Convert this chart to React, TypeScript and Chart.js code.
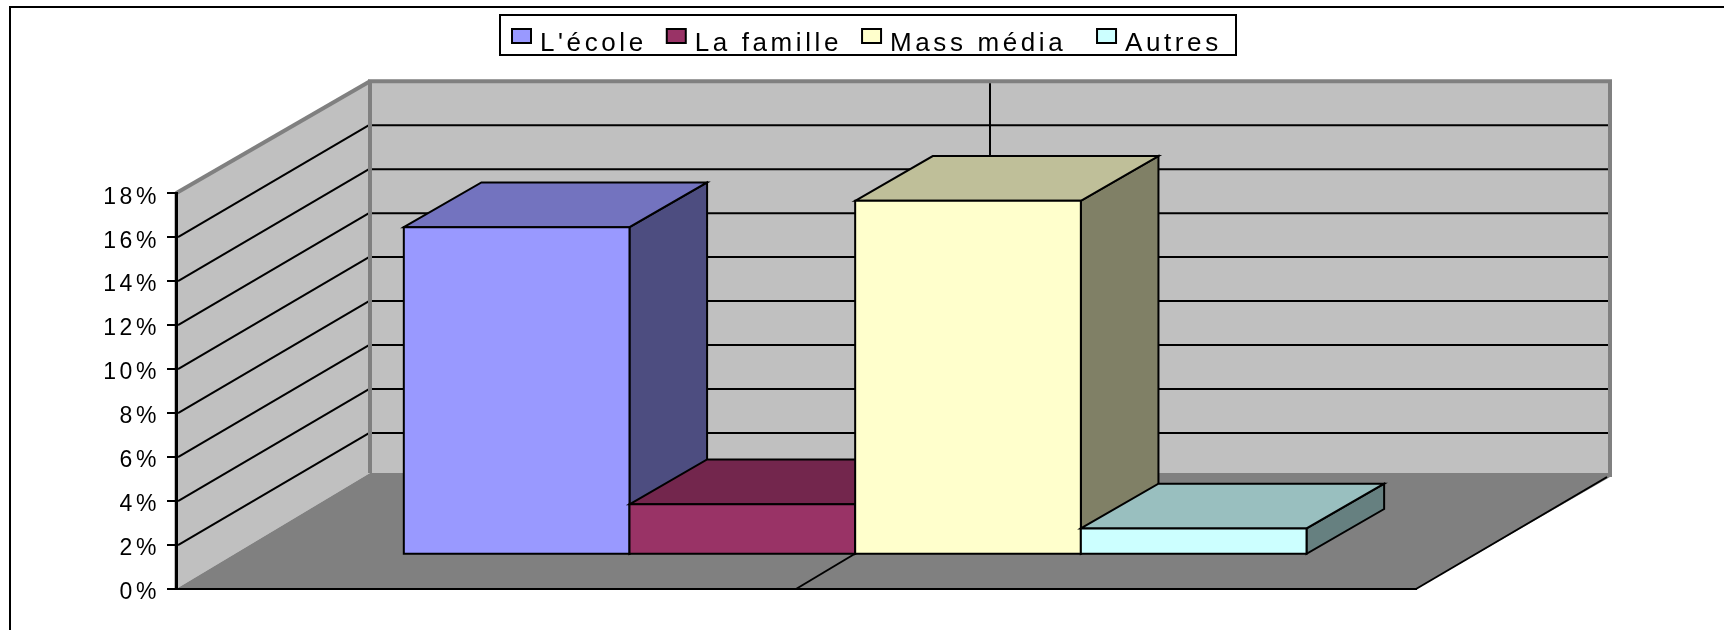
import React, { useEffect, useRef } from "react";
import { Chart, registerables } from "chart.js";

Chart.register(...registerables);

const categories = [""];
const seriesNames = ["L'école", "La famille", "Mass média", "Autres"];
const ecoleValues = [14.9];
const familleValues = [2.3];
const massMediaValues = [16.1];
const autresValues = [1.2];
const seriesValues = [ecoleValues, familleValues, massMediaValues, autresValues];
const frontColors = ["#9999FF", "#993366", "#FFFFCC", "#CCFFFF"];
const topColors = ["#7373BF", "#73264D", "#BFBF99", "#99BFBF"];
const sideColors = ["#4D4D80", "#4D1A33", "#808066", "#668080"];

const FONT = "'Liberation Sans', Arial, sans-serif";
const DEPTH_X = 194;
const DEPTH_Y = 112;
const FLOOR_RISE = 116;
const BAR_GAP_DEPTH = 0.305;
const BAR_DEPTH = 0.4;
const LINE = 2;
const SPACING = "3.6px";

function poly(ctx: any, pts: number[][], fill?: string, stroke?: string, lw = LINE) {
  ctx.beginPath();
  pts.forEach((p, i) => (i ? ctx.lineTo(p[0], p[1]) : ctx.moveTo(p[0], p[1])));
  if (fill) {
    ctx.closePath();
    ctx.fillStyle = fill;
    ctx.fill();
  }
  if (stroke) {
    ctx.strokeStyle = stroke;
    ctx.lineWidth = lw;
    ctx.stroke();
  }
}

const box3d = {
  id: "box3d",
  beforeUpdate(chart: any) {
    chart.ctx.letterSpacing = SPACING;
  },
  beforeDraw(chart: any) {
    const ctx = chart.ctx;
    ctx.letterSpacing = SPACING;
    const { left, right, top, bottom } = chart.chartArea;
    const y = chart.scales.y;
    const backL = left + DEPTH_X;
    const backR = right + DEPTH_X;
    const backT = top - DEPTH_Y;
    const backB = bottom - DEPTH_Y;
    const floorB = bottom - FLOOR_RISE;

    ctx.save();
    ctx.letterSpacing = "0px";
    // outer frame, running off the page on the right and bottom
    ctx.strokeStyle = "#000";
    ctx.lineWidth = 2;
    ctx.strokeRect(10, 7, 2000, 2000);

    // walls and floor
    poly(ctx, [[left, top], [backL, backT], [backL, floorB], [left, bottom]], "#C0C0C0");
    poly(ctx, [[backL, backT], [backR, backT], [backR, floorB], [backL, floorB]], "#C0C0C0");
    poly(ctx, [[left, bottom], [backL, floorB], [backR, floorB], [backR, backB], [right, bottom]], "#808080");

    // gridlines
    for (const t of y.ticks) {
      const py = y.getPixelForValue(t.value);
      if (t.value === y.min || t.value === y.max) continue;
      poly(ctx, [[left + 2, py], [backL - 1, py - DEPTH_Y]], undefined, "#000");
      poly(ctx, [[backL + 2, py - DEPTH_Y], [backR - 2, py - DEPTH_Y]], undefined, "#000");
    }

    // wall edges
    poly(ctx, [[left, top], [backL, backT]], undefined, "#808080", 4);
    poly(ctx, [[backL, floorB], [backL, backT], [backR + 2, backT]], undefined, "#808080", 4);
    poly(ctx, [[backR, backT], [backR, backB]], undefined, "#808080", 4);
    poly(ctx, [[left, top], [left, bottom + 1]], undefined, "#808080", 3);

    // category divider on back wall and floor
    const midF = (left + right) / 2;
    const midB = midF + DEPTH_X;
    poly(ctx, [[midB, backT + 2], [midB, floorB]], undefined, "#000");
    poly(ctx, [[midF, bottom], [midB, floorB]], undefined, "#000");
    // floor front-right edge
    poly(ctx, [[right, bottom], [backR - 3, backB]], undefined, "#000");
    ctx.restore();
  },
  beforeDatasetsDraw(chart: any) {
    const ctx = chart.ctx;
    const fx = DEPTH_X * BAR_GAP_DEPTH;
    const fy = DEPTH_Y * BAR_GAP_DEPTH;
    const dx = DEPTH_X * BAR_DEPTH;
    const dy = DEPTH_Y * BAR_DEPTH;
    ctx.save();
    ctx.lineJoin = "miter";
    chart.data.datasets.forEach((_: any, i: number) => {
      chart.getDatasetMeta(i).data.forEach((el: any) => {
        const l = el.x - el.width / 2 + fx;
        const r = el.x + el.width / 2 + fx;
        const t = el.y - fy;
        const b = el.base - fy;
        poly(ctx, [[r, t], [r + dx, t - dy], [r + dx, b - dy], [r, b]], sideColors[i], "#000");
        poly(ctx, [[l, t], [l + dx, t - dy], [r + dx, t - dy], [r, t]], topColors[i], "#000");
        poly(ctx, [[l, t], [r, t], [r, b], [l, b]], frontColors[i], "#000");
      });
    });
    ctx.restore();
    return false;
  },
  afterDraw(chart: any) {
    const ctx = chart.ctx;
    const lg = chart.legend;
    const hb = lg.legendHitBoxes;
    ctx.save();
    ctx.letterSpacing = "0px";
    ctx.strokeStyle = "#000";
    ctx.lineWidth = 2;
    ctx.strokeRect(500, 15, 736, 40);
    hb.forEach((h: any, i: number) => {
      const x = 512 + h.left - hb[0].left;
      ctx.fillStyle = frontColors[i];
      ctx.fillRect(x, 29, 19, 14);
      ctx.strokeRect(x, 29, 19, 14);
    });
    ctx.restore();
  },
};

const placeLegend = {
  id: "placeLegend",
  beforeDraw(chart: any) {
    const lg = chart.legend;
    lg.left = 492;
    lg.right = 1500;
    lg.top = 11;
    lg.bottom = 63;
  },
};

export default function App() {
  const ref = useRef<HTMLCanvasElement>(null);
  useEffect(() => {
    document.body.style.margin = "0";
    const chart = new Chart(ref.current as HTMLCanvasElement, {
      type: "bar",
      data: {
        labels: categories,
        datasets: seriesNames.map((name, i) => ({
          label: name,
          data: seriesValues[i],
          backgroundColor: frontColors[i],
          borderColor: "#000",
          borderWidth: 1,
          categoryPercentage: 0.728,
          barPercentage: 1,
        })),
      },
      options: {
        responsive: false,
        animation: false,
        events: [],
        layout: { padding: { left: 0, right: 308, top: 0, bottom: 41 } },
        plugins: {
          tooltip: { enabled: false },
          title: { display: true, text: "", font: { size: 1 }, padding: { top: 0, bottom: 136 } },
          legend: {
            display: true,
            position: "top",
            align: "start",
            labels: {
              color: "#000",
              font: { family: FONT, size: 26 },
              boxWidth: 15,
              boxHeight: 14,
              padding: 20,
              generateLabels: () =>
                seriesNames.map((text, i) => ({
                  // the trailing no-break space only widens the advance to the next item
                  text: i === 2 ? `${text}\u00A0` : text,
                  fillStyle: "transparent",
                  strokeStyle: "transparent",
                  lineWidth: 0,
                  datasetIndex: i,
                })),
            },
          },
        },
        scales: {
          x: {
            type: "category",
            grid: { display: false, drawTicks: false },
            border: { display: true, color: "#000", width: 2 },
            ticks: { display: false },
          },
          y: {
            type: "linear",
            min: 0,
            max: 18,
            afterFit: (s: any) => {
              s.width = 176;
            },
            grid: { drawOnChartArea: false, drawTicks: true, tickLength: 9, color: "#000", lineWidth: 2 },
            border: { display: true, color: "#000", width: 3 },
            ticks: {
              stepSize: 2,
              color: "#000",
              padding: 7,
              labelOffset: 4,
              font: { family: FONT, size: 23 },
              callback: (v: any) => `${v}%`,
            },
          },
        },
      },
      plugins: [placeLegend, box3d],
    } as any);
    return () => chart.destroy();
  }, []);
  return (
    <canvas
      ref={ref}
      width={1724}
      height={630}
      style={{ display: "block", position: "absolute", left: 0, top: 0 }}
    />
  );
}
